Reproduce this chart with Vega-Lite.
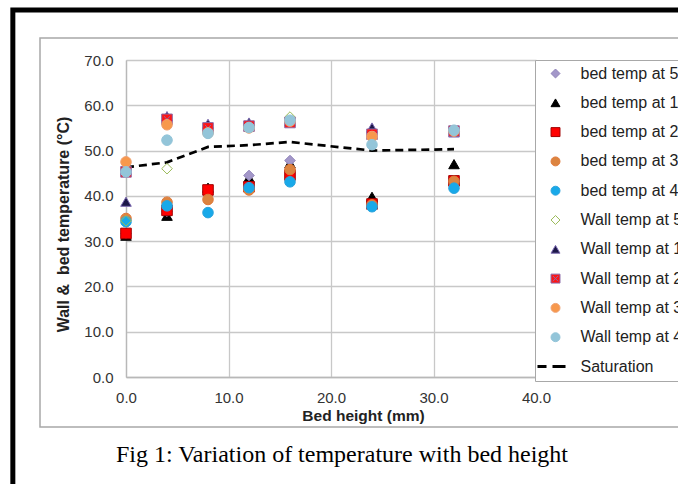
{
  "$schema": "https://vega.github.io/schema/vega-lite/v6.json",
  "width": 410,
  "height": 317,
  "autosize": {"type": "none"},
  "padding": {"left": 126, "top": 60, "right": 142, "bottom": 107},
  "background": "white",
  "config": {
    "view": {"stroke": null},
    "font": "Liberation Sans",
    "axis": {
      "grid": true,
      "gridColor": "#c8c8c8",
      "gridWidth": 1.3,
      "domainColor": "#b8b8b8",
      "domainWidth": 1.3,
      "ticks": false,
      "tickSize": 0,
      "labelPadding": 13,
      "labelFont": "Liberation Sans",
      "labelFontSize": 15,
      "labelColor": "#333333",
      "labelFlush": false,
      "labelOverlap": false,
      "titleFont": "Liberation Sans",
      "titleFontWeight": "bold",
      "titleColor": "#222222",
      "titleAlign": "center",
      "titleBaseline": "alphabetic"
    }
  },
  "datasets": {
    "temps": [
      {"h": 0, "t": 31.2, "series": "bed temp at 10 mm"},
      {"h": 4, "t": 35.6, "series": "bed temp at 10 mm"},
      {"h": 8, "t": 41.8, "series": "bed temp at 10 mm"},
      {"h": 12, "t": 44.0, "series": "bed temp at 10 mm"},
      {"h": 16, "t": 47.2, "series": "bed temp at 10 mm"},
      {"h": 24, "t": 39.8, "series": "bed temp at 10 mm"},
      {"h": 32, "t": 47.0, "series": "bed temp at 10 mm"},
      {"h": 0, "t": 31.7, "series": "bed temp at 5 mm"},
      {"h": 4, "t": 36.6, "series": "bed temp at 5 mm"},
      {"h": 8, "t": 41.0, "series": "bed temp at 5 mm"},
      {"h": 12, "t": 44.5, "series": "bed temp at 5 mm"},
      {"h": 16, "t": 47.8, "series": "bed temp at 5 mm"},
      {"h": 24, "t": 38.0, "series": "bed temp at 5 mm"},
      {"h": 32, "t": 43.0, "series": "bed temp at 5 mm"},
      {"h": 0, "t": 31.7, "series": "bed temp at 20 mm"},
      {"h": 4, "t": 36.8, "series": "bed temp at 20 mm"},
      {"h": 8, "t": 41.3, "series": "bed temp at 20 mm"},
      {"h": 12, "t": 42.0, "series": "bed temp at 20 mm"},
      {"h": 16, "t": 44.6, "series": "bed temp at 20 mm"},
      {"h": 24, "t": 38.2, "series": "bed temp at 20 mm"},
      {"h": 32, "t": 43.3, "series": "bed temp at 20 mm"},
      {"h": 0, "t": 35.0, "series": "bed temp at 30 mm"},
      {"h": 4, "t": 38.6, "series": "bed temp at 30 mm"},
      {"h": 8, "t": 39.2, "series": "bed temp at 30 mm"},
      {"h": 12, "t": 41.3, "series": "bed temp at 30 mm"},
      {"h": 16, "t": 45.8, "series": "bed temp at 30 mm"},
      {"h": 24, "t": 38.0, "series": "bed temp at 30 mm"},
      {"h": 32, "t": 43.2, "series": "bed temp at 30 mm"},
      {"h": 0, "t": 34.3, "series": "bed temp at 40 mm"},
      {"h": 4, "t": 37.8, "series": "bed temp at 40 mm"},
      {"h": 8, "t": 36.3, "series": "bed temp at 40 mm"},
      {"h": 12, "t": 41.8, "series": "bed temp at 40 mm"},
      {"h": 16, "t": 43.1, "series": "bed temp at 40 mm"},
      {"h": 24, "t": 37.6, "series": "bed temp at 40 mm"},
      {"h": 32, "t": 41.7, "series": "bed temp at 40 mm"},
      {"h": 0, "t": 34.5, "series": "Wall temp at 5 mm"},
      {"h": 4, "t": 46.0, "series": "Wall temp at 5 mm"},
      {"h": 8, "t": 55.0, "series": "Wall temp at 5 mm"},
      {"h": 12, "t": 55.6, "series": "Wall temp at 5 mm"},
      {"h": 16, "t": 57.4, "series": "Wall temp at 5 mm"},
      {"h": 24, "t": 54.0, "series": "Wall temp at 5 mm"},
      {"h": 32, "t": 54.3, "series": "Wall temp at 5 mm"},
      {"h": 0, "t": 38.7, "series": "Wall temp at 10 mm"},
      {"h": 4, "t": 57.6, "series": "Wall temp at 10 mm"},
      {"h": 8, "t": 55.9, "series": "Wall temp at 10 mm"},
      {"h": 12, "t": 56.2, "series": "Wall temp at 10 mm"},
      {"h": 16, "t": 56.5, "series": "Wall temp at 10 mm"},
      {"h": 24, "t": 55.1, "series": "Wall temp at 10 mm"},
      {"h": 32, "t": 54.0, "series": "Wall temp at 10 mm"},
      {"h": 0, "t": 45.3, "series": "Wall temp at 20 mm"},
      {"h": 4, "t": 56.9, "series": "Wall temp at 20 mm"},
      {"h": 8, "t": 55.0, "series": "Wall temp at 20 mm"},
      {"h": 12, "t": 55.4, "series": "Wall temp at 20 mm"},
      {"h": 16, "t": 56.2, "series": "Wall temp at 20 mm"},
      {"h": 24, "t": 53.6, "series": "Wall temp at 20 mm"},
      {"h": 32, "t": 54.3, "series": "Wall temp at 20 mm"},
      {"h": 0, "t": 47.5, "series": "Wall temp at 30 mm"},
      {"h": 4, "t": 55.7, "series": "Wall temp at 30 mm"},
      {"h": 8, "t": 53.9, "series": "Wall temp at 30 mm"},
      {"h": 12, "t": 55.0, "series": "Wall temp at 30 mm"},
      {"h": 16, "t": 56.5, "series": "Wall temp at 30 mm"},
      {"h": 24, "t": 53.1, "series": "Wall temp at 30 mm"},
      {"h": 32, "t": 54.3, "series": "Wall temp at 30 mm"},
      {"h": 0, "t": 45.3, "series": "Wall temp at 40 mm"},
      {"h": 4, "t": 52.3, "series": "Wall temp at 40 mm"},
      {"h": 8, "t": 53.8, "series": "Wall temp at 40 mm"},
      {"h": 12, "t": 55.1, "series": "Wall temp at 40 mm"},
      {"h": 16, "t": 56.7, "series": "Wall temp at 40 mm"},
      {"h": 24, "t": 51.3, "series": "Wall temp at 40 mm"},
      {"h": 32, "t": 54.5, "series": "Wall temp at 40 mm"}
    ],
    "saturation": [
      {"h": 0, "t": 46.3},
      {"h": 4, "t": 47.4},
      {"h": 8, "t": 50.8},
      {"h": 12, "t": 51.2},
      {"h": 16, "t": 51.9},
      {"h": 24, "t": 50.0},
      {"h": 32, "t": 50.3}
    ]
  },
  "layer": [
    {
      "description": "grey chart-area frame",
      "data": {"values": [{}]},
      "mark": {"type": "rect", "fill": "transparent", "stroke": "#a8a8a8", "strokeWidth": 1.5},
      "encoding": {
        "x": {"datum": -8.39, "type": "quantitative", "scale": {"domain": [0, 40], "nice": false, "zero": false}},
        "x2": {"datum": 56.5},
        "y": {"datum": 74.86, "type": "quantitative", "scale": {"domain": [0, 70], "nice": false, "zero": false}},
        "y2": {"datum": -11.04}
      }
    },
    {
      "description": "saturation curve",
      "data": {"name": "saturation"},
      "mark": {"type": "line", "color": "black", "strokeWidth": 2.7, "strokeDash": [8, 5]},
      "encoding": {
        "x": {"field": "h", "type": "quantitative", "scale": {"domain": [0, 40], "nice": false, "zero": false}},
        "y": {"field": "t", "type": "quantitative", "scale": {"domain": [0, 70], "nice": false, "zero": false}}
      }
    },
    {
      "description": "measured bed and wall temperatures",
      "data": {"name": "temps"},
      "mark": {"type": "point", "filled": true, "opacity": 1, "strokeWidth": 1, "size": 112},
      "encoding": {
        "x": {
          "field": "h", "type": "quantitative",
          "scale": {"domain": [0, 40], "nice": false, "zero": false},
          "axis": {"values": [0, 10, 20, 30, 40], "format": ".1f", "title": "Bed height (mm)", "titleFontSize": 15.5, "titleX": 237, "titleY": 43}
        },
        "y": {
          "field": "t", "type": "quantitative",
          "scale": {"domain": [0, 70], "nice": false, "zero": false},
          "axis": {"values": [0, 10, 20, 30, 40, 50, 60, 70], "format": ".1f", "title": "Wall &\u00a0 bed temperature (°C)", "titleFontSize": 16, "titleAngle": -90, "titleX": -58, "titleY": 164}
        },
        "shape": {
          "field": "series", "type": "nominal",
          "scale": {
            "domain": ["bed temp at 5 mm", "bed temp at 10 mm", "bed temp at 20 mm", "bed temp at 30 mm", "bed temp at 40 mm", "Wall temp at 5 mm", "Wall temp at 10 mm", "Wall temp at 20 mm", "Wall temp at 30 mm", "Wall temp at 40 mm", "Saturation"],
            "range": ["diamond", "triangle-up", "square", "circle", "circle", "diamond", "triangle-up", "M-1,-1H1V1H-1Z M-0.6,-0.6L0.6,0.6 M0.6,-0.6L-0.6,0.6", "circle", "circle", "M-4.03,-0.34H-2.01V0.34H-4.03Z M-0.67,-0.34H2.24V0.34H-0.67Z"]
          },
          "legend": {
            "orient": "none", "legendX": 409, "legendY": 0,
            "title": null,
            "fillColor": "white", "strokeColor": "#a8a8a8",
            "padding": 5.5, "symbolOffset": 7, "symbolSize": 80, "symbolStrokeWidth": 1,
            "labelFont": "Liberation Sans", "labelFontSize": 16, "labelColor": "#222222",
            "labelOffset": 17, "labelLimit": 400, "rowPadding": 13.3
          }
        },
        "fill": {
          "field": "series", "type": "nominal",
          "scale": {
            "domain": ["bed temp at 5 mm", "bed temp at 10 mm", "bed temp at 20 mm", "bed temp at 30 mm", "bed temp at 40 mm", "Wall temp at 5 mm", "Wall temp at 10 mm", "Wall temp at 20 mm", "Wall temp at 30 mm", "Wall temp at 40 mm", "Saturation"],
            "range": ["#a397c9", "#000000", "#ff0000", "#dc8440", "#18a9e9", "transparent", "#1c1748", "#ff1414", "#f7984c", "#93c5d9", "#000000"]
          }
        },
        "stroke": {
          "field": "series", "type": "nominal",
          "scale": {
            "domain": ["bed temp at 5 mm", "bed temp at 10 mm", "bed temp at 20 mm", "bed temp at 30 mm", "bed temp at 40 mm", "Wall temp at 5 mm", "Wall temp at 10 mm", "Wall temp at 20 mm", "Wall temp at 30 mm", "Wall temp at 40 mm", "Saturation"],
            "range": ["#9184ba", "#000000", "#a00000", "#e07a3a", "#2aa3dd", "#9bbb59", "#7a68b0", "#8a6aa8", "#f0a070", "#93c5d9", "transparent"]
          }
        }
      }
    },
    {
      "description": "figure caption",
      "data": {"values": [{}]},
      "mark": {"type": "text", "font": "Liberation Serif", "fontSize": 24, "align": "center", "baseline": "alphabetic", "color": "black"},
      "encoding": {
        "x": {"datum": 21.07, "type": "quantitative", "scale": {"domain": [0, 40], "nice": false, "zero": false}},
        "y": {"datum": -18.77, "type": "quantitative", "scale": {"domain": [0, 70], "nice": false, "zero": false}},
        "text": {"value": "Fig 1: Variation of temperature with bed height"}
      }
    },
    {
      "description": "black page border",
      "data": {"values": [{}]},
      "mark": {"type": "rect", "fill": "transparent", "stroke": "black", "strokeWidth": 5},
      "encoding": {
        "x": {"datum": -11.04, "type": "quantitative", "scale": {"domain": [0, 40], "nice": false, "zero": false}},
        "x2": {"datum": 57},
        "y": {"datum": 81.04, "type": "quantitative", "scale": {"domain": [0, 70], "nice": false, "zero": false}},
        "y2": {"datum": -28}
      }
    }
  ]
}
